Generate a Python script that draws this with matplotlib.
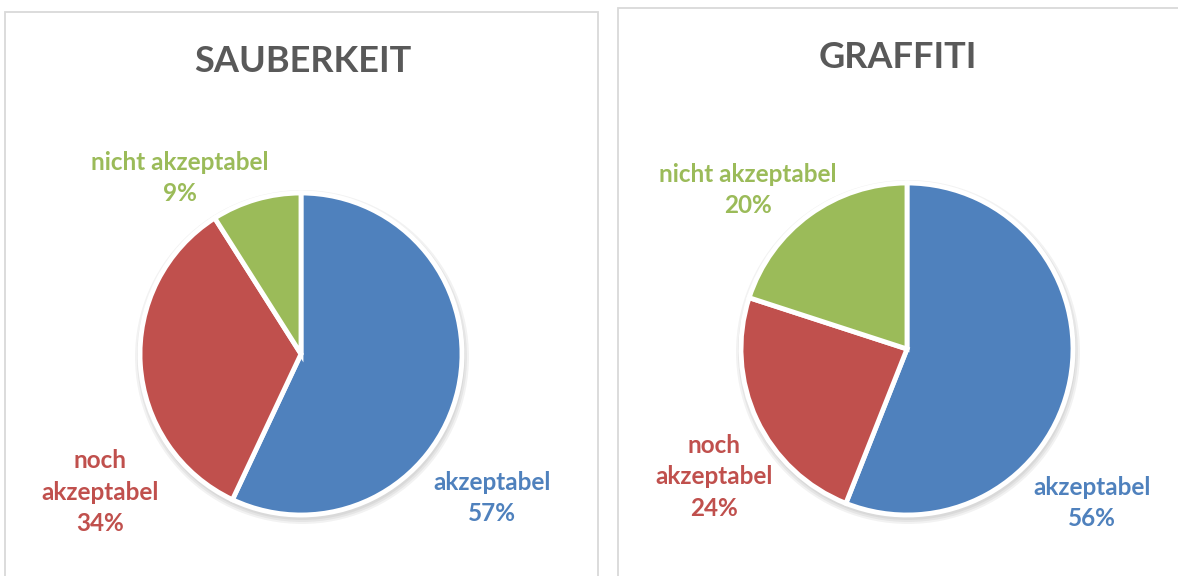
import matplotlib

matplotlib.use("Agg")
import matplotlib.pyplot as plt
from matplotlib.patches import Rectangle, Circle

# data
categories = ["akzeptabel", "noch\nakzeptabel", "nicht akzeptabel"]
sauberkeit = [57, 34, 9]
graffiti = [56, 24, 20]
titles = ["SAUBERKEIT", "GRAFFITI"]
colors = ["#4F81BD", "#C0504D", "#9BBB59"]

W, H = 1178, 576
FONT = ["Lato", "DejaVu Sans"]

fig = plt.figure(figsize=(W / 100, H / 100), dpi=100)
ax = fig.add_axes([0, 0, 1, 1])
ax.set_xlim(0, W)
ax.set_ylim(0, H)
ax.set_aspect("equal")
ax.axis("off")


def y(px):
    # convert from top-based pixel rows
    return H - px


panels = [
    dict(box=(5, 12, 593), center=(301, 354), r=161, title_xy=(303, 62),
         label_xy=[(492, 498), (100, 492), (180, 178)], values=sauberkeit),
    dict(box=(618, 8, 570), center=(907, 349), r=166, title_xy=(898, 57),
         label_xy=[(1092, 503), (714, 477), (748, 190)], values=graffiti),
]

for title, p in zip(titles, panels):
    x0, top, width = p["box"]
    ax.add_patch(Rectangle((x0, -10), width, y(top) + 10, facecolor="white",
                           edgecolor="#D9D9D9", linewidth=1.3))
    ax.text(p["title_xy"][0], y(p["title_xy"][1]), title, ha="center", va="center",
            fontsize=26, fontweight="bold", color="#595959", family=FONT)

    cx, cy = p["center"][0], y(p["center"][1])
    # soft shadow
    for k in range(3):
        ax.add_patch(Circle((cx + 1, cy - 3), p["r"] + 2 + k * 2, facecolor="black",
                            edgecolor="none", alpha=0.05, zorder=1))
    ax.pie(p["values"], colors=colors, startangle=90, counterclock=False,
           center=(cx, cy), radius=p["r"], frame=True,
           wedgeprops=dict(edgecolor="white", linewidth=3.5, zorder=2))

    for cat, val, col, (lx, ly) in zip(categories, p["values"], colors, p["label_xy"]):
        ax.text(lx, y(ly), "{}\n{}%".format(cat, val), ha="center", va="center",
                fontsize=17.5, fontweight="bold", color=col, family=FONT,
                linespacing=1.45)

ax.set_xlim(0, W)
ax.set_ylim(0, H)
ax.axis("off")

fig.savefig("out.png", dpi=100, facecolor="white")
